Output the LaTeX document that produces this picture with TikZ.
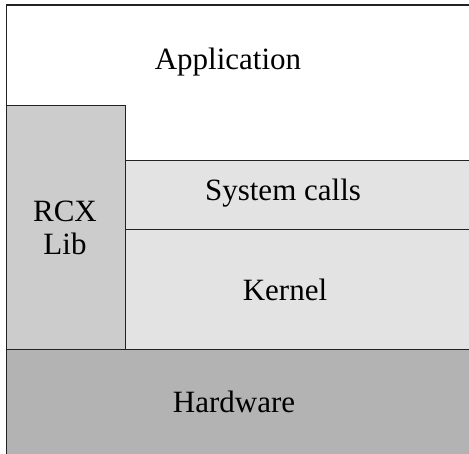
\documentclass[tikz,border=0pt]{standalone}
\usepackage{fontspec}
\setmainfont{Liberation Serif}
\definecolor{rcxgray}{HTML}{CCCCCC}
\definecolor{kergray}{HTML}{E3E3E3}
\definecolor{hwgray}{HTML}{B3B3B3}
\definecolor{edge}{HTML}{222222}
\tikzset{
  layer/.style={draw=edge, line width=1.2pt, rectangle, inner sep=0pt, anchor=north west},
  lbl/.style={font=\fontsize{31}{36}\selectfont, inner sep=0pt, align=center},
}
\begin{document}
\begin{tikzpicture}[x=1pt,y=-1pt]
\useasboundingbox (0,0) rectangle (469,454);
\node[layer, fill=white, minimum width=470pt, minimum height=345pt] (app) at (6,4.5) {};
\node[layer, fill=rcxgray, minimum width=119pt, minimum height=244pt] (rcx) at (6,105) {};
\node[layer, fill=kergray, minimum width=350pt, minimum height=69pt] (sys) at (125,160) {};
\node[layer, fill=kergray, minimum width=350pt, minimum height=120pt] (ker) at (125,229) {};
\node[layer, fill=hwgray, minimum width=470pt, minimum height=110pt] (hw) at (6,349) {};
\node[lbl] (tapp) at (228,62) {Application};
\node[lbl] (trcx) at (65,228) {RCX\\[-3pt]Lib};
\node[lbl] (tsys) at (283,193) {System calls};
\node[lbl] (tker) at (285,290) {Kernel};
\node[lbl] (thw) at (234,402) {Hardware};
\end{tikzpicture}
\end{document}
